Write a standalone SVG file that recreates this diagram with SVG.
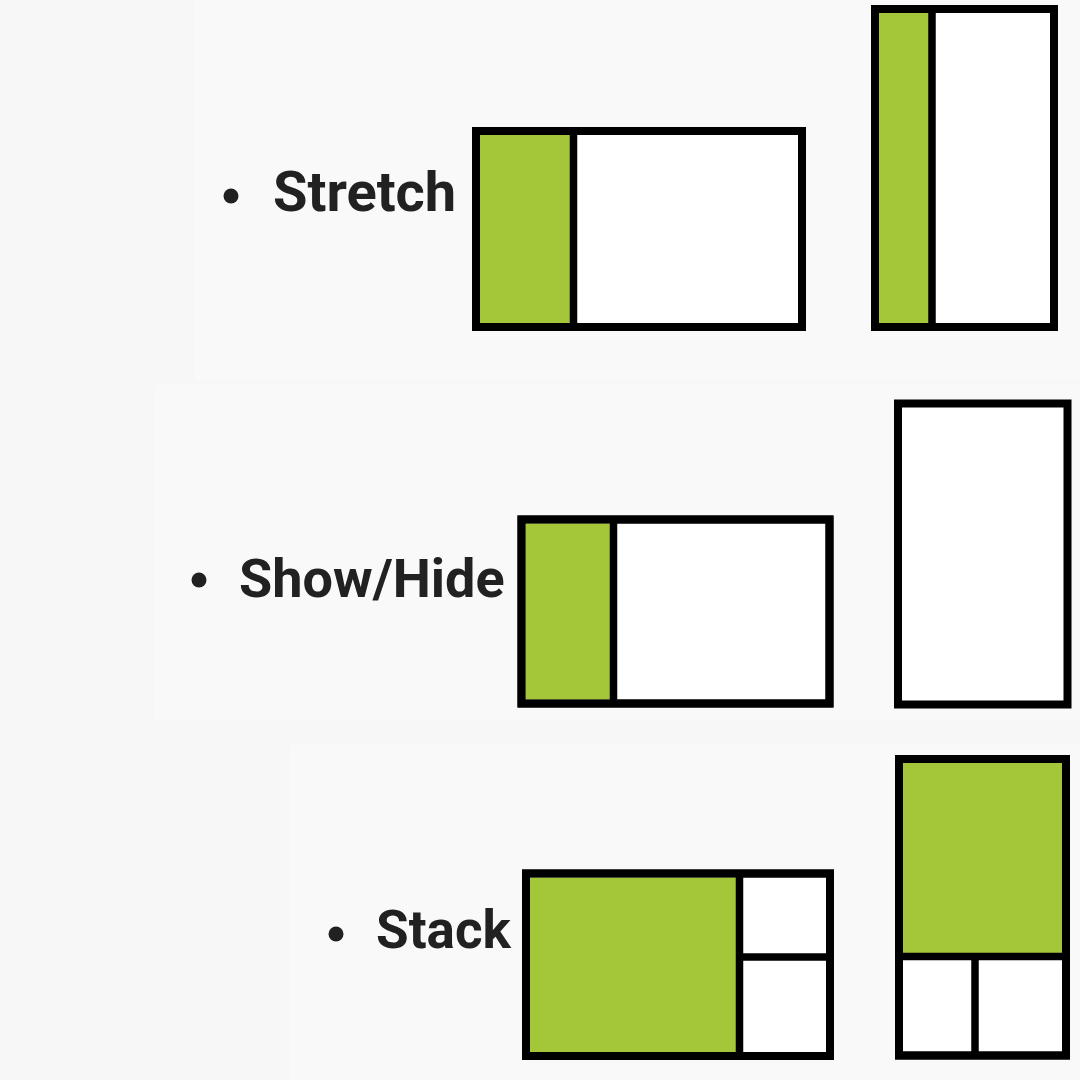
<svg xmlns="http://www.w3.org/2000/svg" width="1080" height="1080" viewBox="0 0 1080 1080">
  <style>
    .frame { fill: #ffffff; stroke: #000000; stroke-width: 8; }
    .green { fill: #a4c639; }
    .div { stroke: #000000; stroke-width: 7.5; fill: none; }
    .label { font-family: Roboto, "Liberation Sans", sans-serif; font-weight: 700; font-size: 54px; fill: #212121; }
    .bullet { fill: #212121; }
  </style>
  <rect x="0" y="0" width="1080" height="1080" fill="#f7f7f7"/>
  <rect x="195" y="0" width="885" height="380" fill="#f9f9f9"/>
  <rect x="155" y="385" width="925" height="335" fill="#f9f9f9"/>
  <rect x="290" y="745" width="790" height="335" fill="#f9f9f9"/>

  <g id="stretch">
    <circle class="bullet" cx="231" cy="196" r="7.5"/>
    <text class="label" x="273" y="211" style="font-size:56px">Stretch</text>
    <g id="stretch-landscape">
      <rect class="frame" x="476" y="131" width="326" height="196"/>
      <rect class="green" x="480" y="135" width="93.5" height="188"/>
      <line class="div" x1="573.5" y1="131" x2="573.5" y2="327"/>
      <rect x="476" y="131" width="326" height="196" fill="none" stroke="#000" stroke-width="8"/>
    </g>
    <g id="stretch-portrait">
      <rect class="frame" x="875" y="9" width="179" height="318"/>
      <rect class="green" x="879" y="13" width="53" height="310"/>
      <line class="div" x1="932" y1="9" x2="932" y2="327"/>
      <rect x="875" y="9" width="179" height="318" fill="none" stroke="#000" stroke-width="8"/>
    </g>
  </g>

  <g id="showhide">
    <circle class="bullet" cx="199" cy="580" r="7.5"/>
    <text class="label" x="239" y="597">Show/Hide</text>
    <g id="showhide-landscape">
      <rect class="frame" x="521.5" y="519.5" width="308" height="184"/>
      <rect class="green" x="525.5" y="523.5" width="88" height="176"/>
      <line class="div" x1="613.5" y1="519.5" x2="613.5" y2="703.5"/>
      <rect x="521.5" y="519.5" width="308" height="184" fill="none" stroke="#000" stroke-width="8"/>
    </g>
    <g id="showhide-portrait">
      <rect class="frame" x="898" y="403.5" width="169.5" height="301"/>
    </g>
  </g>

  <g id="stack">
    <circle class="bullet" cx="336" cy="934" r="7.5"/>
    <text class="label" x="376" y="948" style="font-size:53px">Stack</text>
    <g id="stack-landscape">
      <rect class="frame" x="526" y="873.5" width="304" height="182.5"/>
      <rect class="green" x="530" y="877.5" width="209.5" height="174.5"/>
      <line class="div" x1="739.5" y1="873.5" x2="739.5" y2="1056"/>
      <line class="div" x1="739.5" y1="957" x2="830" y2="957"/>
      <rect x="526" y="873.5" width="304" height="182.5" fill="none" stroke="#000" stroke-width="8"/>
    </g>
    <g id="stack-portrait">
      <rect class="frame" x="899" y="759" width="167" height="296.5"/>
      <rect class="green" x="903" y="763" width="159" height="193.5"/>
      <line class="div" x1="899" y1="956.5" x2="1066" y2="956.5"/>
      <line class="div" x1="975" y1="956.5" x2="975" y2="1055.5"/>
      <rect x="899" y="759" width="167" height="296.5" fill="none" stroke="#000" stroke-width="8"/>
    </g>
  </g>
  <g id="connectors"/>
</svg>
